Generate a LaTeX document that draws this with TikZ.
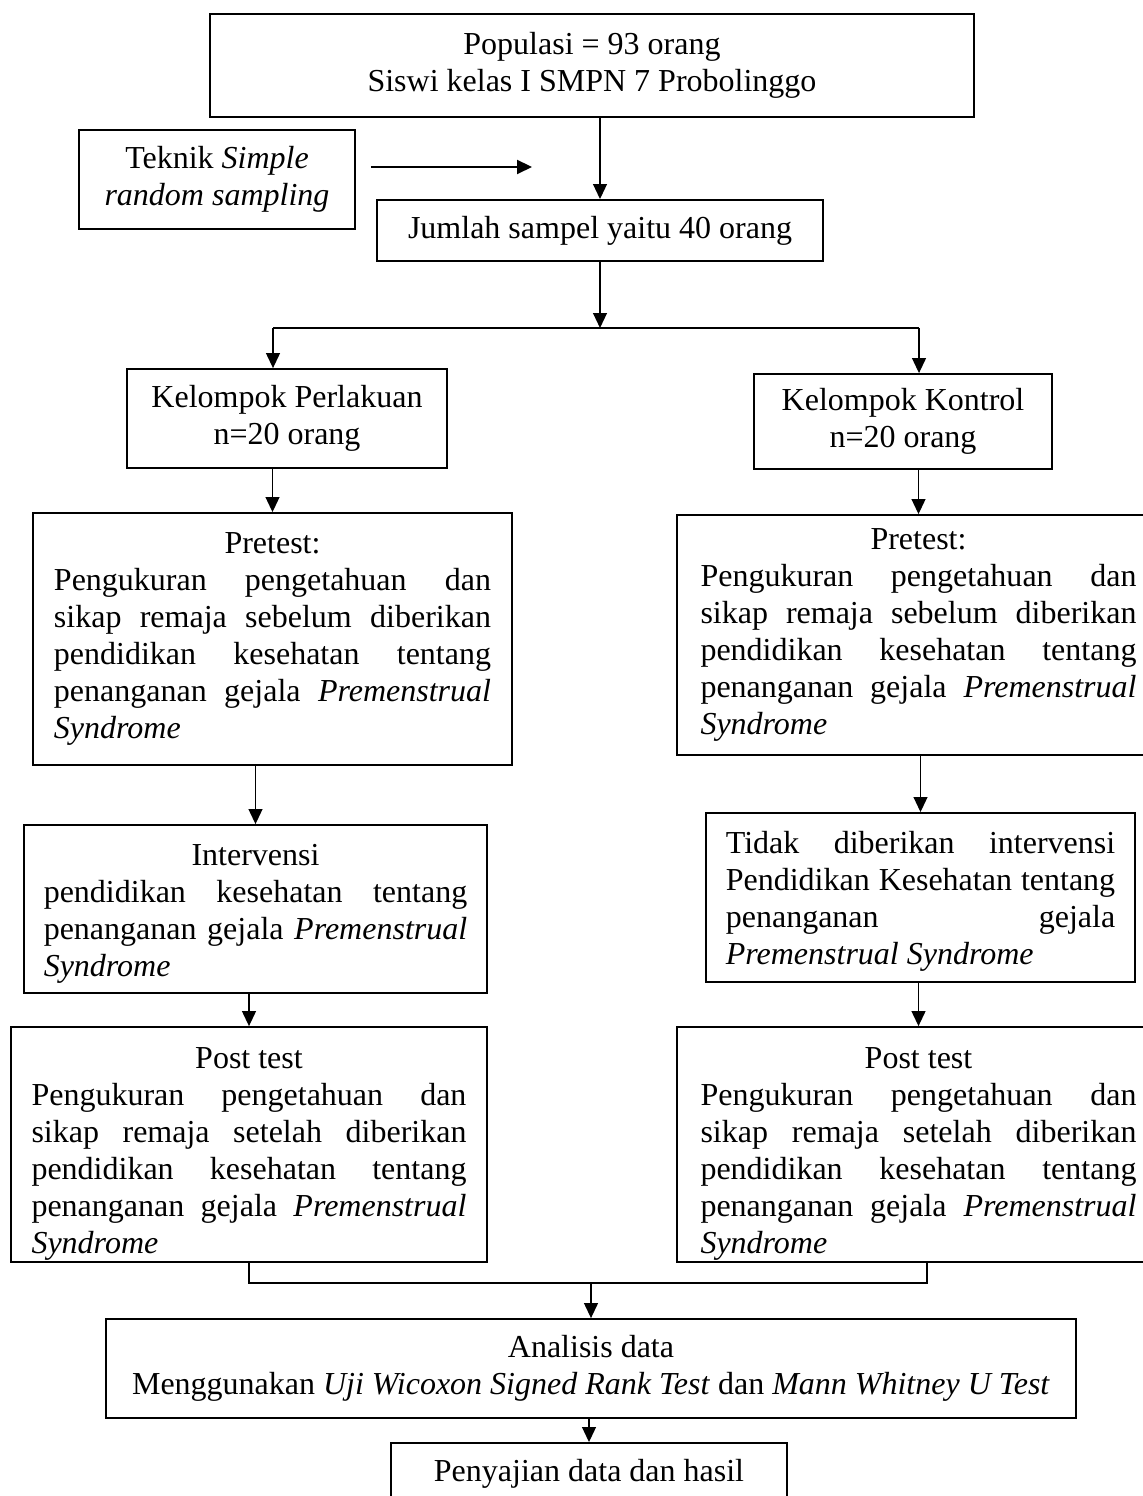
\documentclass[tikz,border=0pt]{standalone}
\usepackage{fontspec}
\setmainfont{Liberation Serif}
\usetikzlibrary{arrows.meta}
\tolerance=10000
\hbadness=10000
\hyphenpenalty=10000
\exhyphenpenalty=10000

\tikzset{
  kotak/.style={draw, rectangle, line width=0.7pt, inner sep=0pt, font=\fontsize{12pt}{13.9pt}\selectfont},
  paragraf/.style={kotak, align=justify},
  panah/.style={-{Triangle[length=5.6pt,width=5.2pt]}, line width=0.5pt},
  garis/.style={line width=0.5pt}
}

\begin{document}
\begin{tikzpicture}[x=0.375pt,y=-0.375pt]
\useasboundingbox (0,0) rectangle (1142,1496);

% bagian atas
\node[kotak, align=center, minimum width=286.5pt, minimum height=38.6pt] (pop) at (592,65.5) {Populasi = 93 orang\\Siswi kelas I SMPN 7 Probolinggo};
\node[kotak, align=center, minimum width=103.5pt, minimum height=37.1pt] (tek) at (217,179.5) {Teknik \textit{Simple}\\\textit{random sampling}};
\node[kotak, align=center, minimum width=167.3pt, minimum height=22.9pt] (jml) at (600,230.5) {Jumlah sampel yaitu 40 orang};
\coordinate (tekujung) at (532,167);

% kelompok
\node[kotak, align=center, minimum width=120pt, minimum height=37.1pt] (kp) at (287,418.5) {Kelompok Perlakuan\\n=20 orang};
\node[kotak, align=center, minimum width=111.8pt, minimum height=35.6pt] (kk) at (903,421.5) {Kelompok Kontrol\\n=20 orang};
\coordinate (cabL) at (273,328);
\coordinate (cabR) at (919,328);

% pretest
\node[paragraf, text width=163.9pt, minimum width=179.6pt, minimum height=94.5pt] (ptL) at (272.5,639) {\makebox[\linewidth]{Pretest:}\\
Pengukuran pengetahuan dan\linebreak sikap remaja sebelum diberikan\linebreak pendidikan kesehatan tentang\linebreak penanganan gejala \textit{Premenstrual}\linebreak \textit{Syndrome}};
\node[paragraf, text width=163.5pt, minimum width=181.1pt, minimum height=90pt] (ptR) at (918.5,635) {\makebox[\linewidth]{Pretest:}\\
Pengukuran pengetahuan dan\linebreak sikap remaja sebelum diberikan\linebreak pendidikan kesehatan tentang\linebreak penanganan gejala \textit{Premenstrual}\linebreak \textit{Syndrome}};

% intervensi
\node[paragraf, text width=158.8pt, minimum width=173.6pt, minimum height=63pt] (intv) at (255.5,909) {\rule{0pt}{11.5pt}\makebox[\linewidth]{Intervensi}\\
pendidikan kesehatan tentang\linebreak penanganan gejala \textit{Premenstrual}\linebreak \textit{Syndrome}};
\node[paragraf, text width=146pt, minimum width=160.9pt, minimum height=63.4pt] (tdk) at (920.5,897.5) {\rule{0pt}{11.5pt}Tidak diberikan intervensi\linebreak Pendidikan Kesehatan tentang\linebreak penanganan gejala\linebreak \textit{Premenstrual Syndrome}};

% post test
\node[paragraf, text width=163.1pt, minimum width=178.5pt, minimum height=88.1pt] (poL) at (249,1144.5) {\rule{0pt}{15pt}\makebox[\linewidth]{Post test}\\
Pengukuran pengetahuan dan\linebreak sikap remaja setelah diberikan\linebreak pendidikan kesehatan tentang\linebreak penanganan gejala \textit{Premenstrual}\linebreak \textit{Syndrome}};
\node[paragraf, text width=163.5pt, minimum width=181.1pt, minimum height=88.1pt] (poR) at (918.5,1144.5) {\rule{0pt}{15pt}\makebox[\linewidth]{Post test}\\
Pengukuran pengetahuan dan\linebreak sikap remaja setelah diberikan\linebreak pendidikan kesehatan tentang\linebreak penanganan gejala \textit{Premenstrual}\linebreak \textit{Syndrome}};
\coordinate (gabR) at (927,1283);

% analisis
\node[kotak, align=center, minimum width=363.8pt, minimum height=37.1pt] (ana) at (591,1368.5) {Analisis data\\Menggunakan \textit{Uji Wicoxon Signed Rank Test} dan \textit{Mann Whitney U Test}};
\node[kotak, align=center, minimum width=148.5pt, minimum height=22.9pt] (pen) at (589,1473.5) {Penyajian data dan hasil};

% panah
\draw[panah, line width=0.9pt] (tek.east) ++(15,-12.5) -- (tekujung);
\draw[panah] (pop.south -| jml) -- (jml);
\draw[panah] (jml) -- (jml |- cabL);
\draw[garis] (cabL) -- (cabR);
\draw[panah] (cabL) -- (cabL |- kp.north);
\draw[panah] (cabR) -- (cabR |- kk.north);
\draw[panah] (kp.south -| ptL) -- (ptL);
\draw[panah] (kk.south -| ptR) -- (ptR);
\draw[panah] (ptL.south -| intv) -- (intv);
\draw[panah] (ptR.south -| tdk) -- (tdk);
\draw[panah] (intv.south -| poL) -- (poL);
\draw[panah] (tdk.south -| poR) -- (poR);
\draw[garis] (poL.south) |- (gabR) -- (gabR |- poR.south);
\draw[panah] (gabR -| ana) -- (ana);
\draw[panah] (ana.south -| pen) -- (pen);
\end{tikzpicture}
\end{document}
